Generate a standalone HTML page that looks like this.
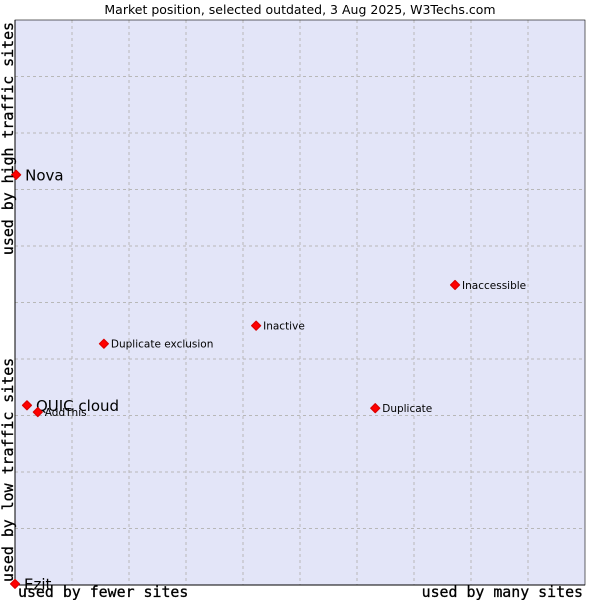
<!DOCTYPE html>
<html><head><meta charset="utf-8"><style>
body{margin:0;background:#fff;}
svg{display:block;}
</style></head><body>
<svg id="chart" width="600" height="600" xmlns="http://www.w3.org/2000/svg">
<text x="300" y="14" text-anchor="middle" font-family="DejaVu Sans, sans-serif" font-size="12.5" fill="#000">Market position, selected outdated, 3 Aug 2025, W3Techs.com</text>
<rect x="15" y="20" width="570" height="565" fill="#e3e5f8"/>
<g id="grid"></g>
<line x1="15" y1="20" x2="15" y2="585" stroke="#000"/>
<line x1="15" y1="585" x2="585" y2="585" stroke="#000"/>
<rect x="15" y="20" width="570" height="565" fill="none" stroke="#000" stroke-width="0.6"/>
<g id="points"></g>
<text x="18" y="597" font-family="DejaVu Sans Mono, monospace" font-size="14.9" stroke="#000" stroke-width="0.3">used by fewer sites</text>
<text x="583" y="597" text-anchor="end" font-family="DejaVu Sans Mono, monospace" font-size="14.9" stroke="#000" stroke-width="0.3">used by many sites</text>
<text transform="translate(13,582) rotate(-90)" font-family="DejaVu Sans Mono, monospace" font-size="14.9" stroke="#000" stroke-width="0.3">used by low traffic sites</text>
<text transform="translate(13,22) rotate(-90)" text-anchor="end" font-family="DejaVu Sans Mono, monospace" font-size="14.9" stroke="#000" stroke-width="0.3">used by high traffic sites</text>
</svg>
<script>
const names=["Nova","QUIC cloud","AddThis","Duplicate exclusion","Inactive","Inaccessible","Duplicate","Ezit"];
const xValues=[0.2,2.1,4.0,15.6,42.3,77.2,63.2,0.0];
const yValues=[72.6,31.8,30.6,42.7,45.9,53.1,31.3,0.2];
const bigLabel=[true,true,false,false,false,false,false,true];
const NS="http://www.w3.org/2000/svg";
const L=15,T=20,W=570,H=565;
function sx(v){return L+v/100*W;}
function sy(v){return T+H-v/100*H;}
const grid=document.getElementById('grid');
for(let i=1;i<10;i++){
  const v=document.createElementNS(NS,'line');
  
  
  v.setAttribute('x1',sx(i*10));v.setAttribute('x2',sx(i*10));
  v.setAttribute('y1',T);v.setAttribute('y2',T+H);
  v.setAttribute('stroke','#b8b8b8');v.setAttribute('stroke-dasharray','3,3');
  grid.appendChild(v);
  const h=document.createElementNS(NS,'line');
  
  
  h.setAttribute('y1',sy(i*10));h.setAttribute('y2',sy(i*10));
  h.setAttribute('x1',L);h.setAttribute('x2',L+W);
  h.setAttribute('stroke','#b8b8b8');h.setAttribute('stroke-dasharray','3,3');
  grid.appendChild(h);
}
const pts=document.getElementById('points');
names.forEach((n,i)=>{
  const x=sx(xValues[i]),y=sy(yValues[i]);
  const d=document.createElementNS(NS,'path');
  
  
  d.setAttribute('d',`M${x} ${y-4.5}L${x+4.5} ${y}L${x} ${y+4.5}L${x-4.5} ${y}Z`);
  d.setAttribute('fill','#ff0000');d.setAttribute('stroke','#dd0000');d.setAttribute('stroke-width','1.2');d.setAttribute('stroke-linejoin','round');
  pts.appendChild(d);
  const t=document.createElementNS(NS,'text');
  
  
  t.setAttribute('x',x+(bigLabel[i]?9:7));
  t.setAttribute('y',y+(bigLabel[i]?5.5:4));
  t.setAttribute('font-family','DejaVu Sans, sans-serif');
  t.setAttribute('font-size',bigLabel[i]?'15':'10.5');
  t.textContent=n;
  pts.appendChild(t);
});
</script>
</body></html>
